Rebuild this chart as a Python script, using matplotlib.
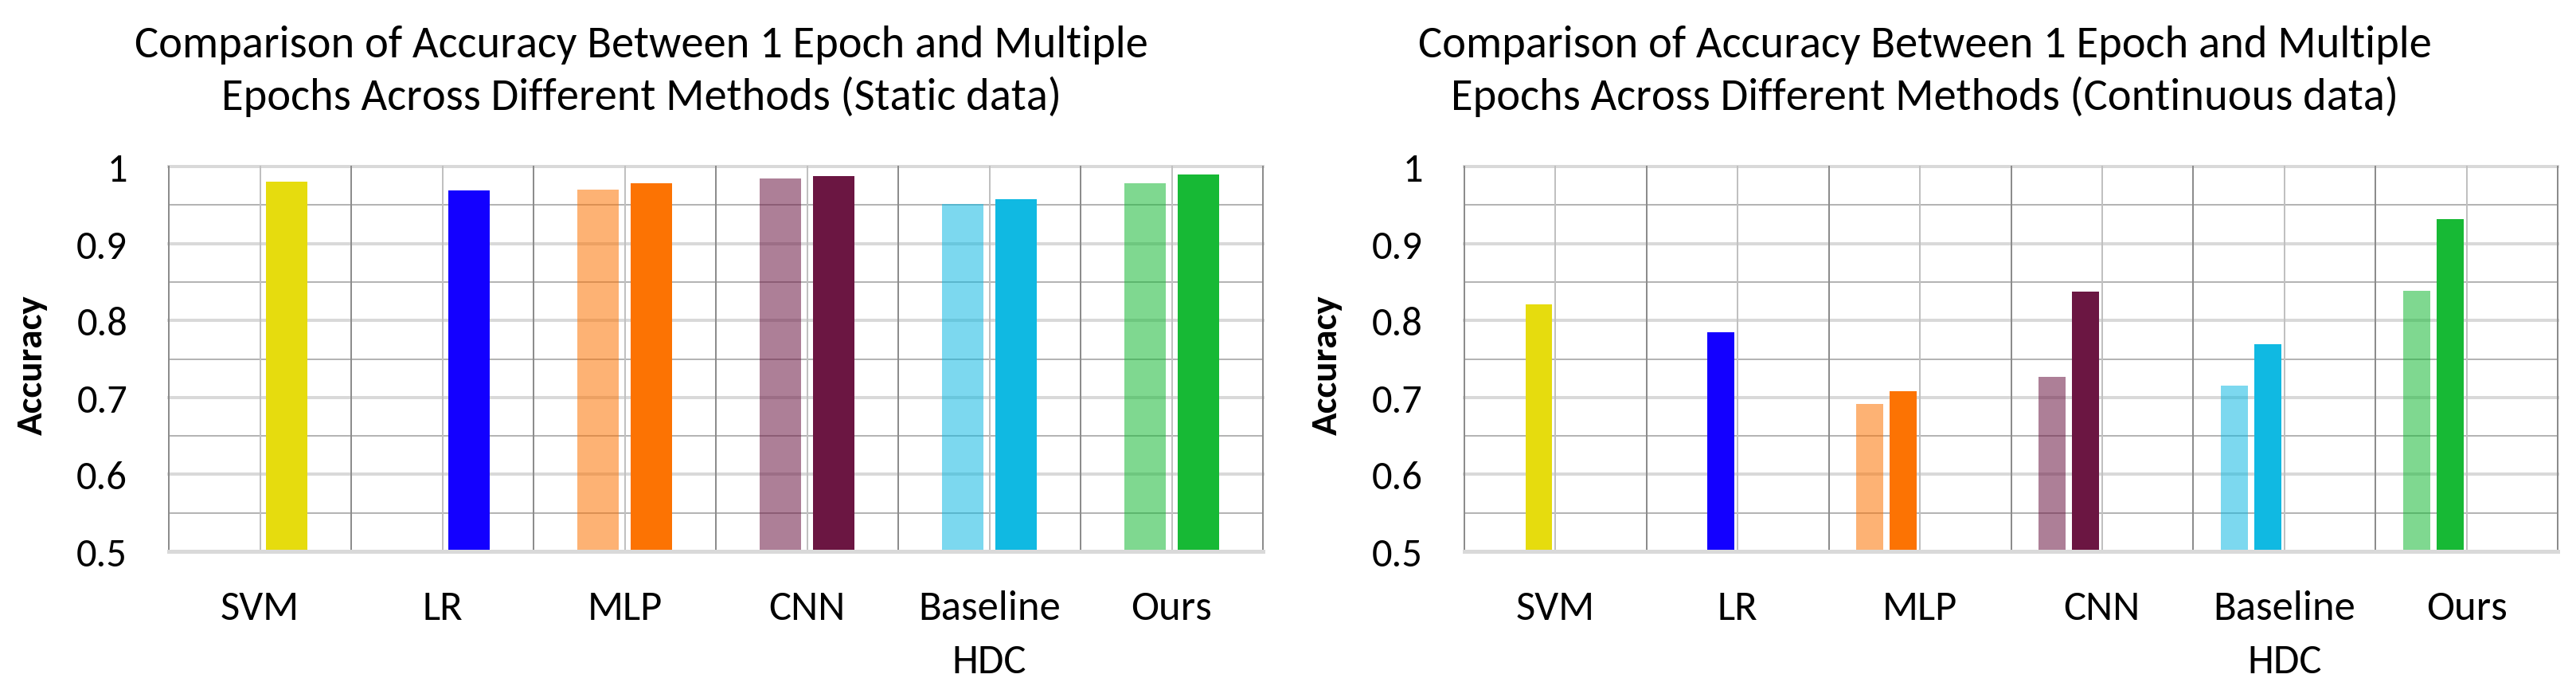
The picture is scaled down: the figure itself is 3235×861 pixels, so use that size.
import numpy as np
import matplotlib
matplotlib.use("Agg")
import matplotlib.pyplot as plt
from matplotlib import font_manager
from matplotlib.transforms import blended_transform_factory

# ---------------- data ----------------
methods = ["SVM", "LR", "MLP", "CNN", "Baseline\nHDC", "Ours"]
static_1epoch = [np.nan, np.nan, 0.970, 0.984, 0.951, 0.978]
static_multi = [0.980, 0.969, 0.978, 0.988, 0.958, 0.990]
cont_1epoch = [np.nan, np.nan, 0.692, 0.727, 0.715, 0.838]
cont_multi = [0.821, 0.785, 0.708, 0.837, 0.769, 0.932]
yticks = [0.5, 0.6, 0.7, 0.8, 0.9, 1.0]
ytick_labels = ["0.5", "0.6", "0.7", "0.8", "0.9", "1"]
titles = [
    ["Comparison of Accuracy Between 1 Epoch and Multiple",
     "Epochs Across Different Methods (Static data)"],
    ["Comparison of Accuracy Between 1 Epoch and Multiple",
     "Epochs Across Different Methods (Continuous data)"],
]
ylabel = "Accuracy"
colors = ["#E6DC0E", "#1300FF", "#FC7303", "#6B1642", "#10B9E2", "#17B935"]

# ---------------- font ----------------
def pick(names):
    for n in names:
        try:
            font_manager.findfont(n, fallback_to_default=False)
            return n
        except Exception:
            pass
    return "DejaVu Sans"

FONT = pick(["Carlito", "Lato", "Open Sans"])
plt.rcParams["font.family"] = [FONT, "DejaVu Sans"]

W, H = 3235, 862
DPI = 100
fig = plt.figure(figsize=(W / DPI, H / DPI), dpi=DPI)
renderer = fig.canvas.get_renderer()


def px(v):  # pixels -> points
    return v * 72 / DPI


def fit_size(text, target_px, weight="normal"):
    t = fig.text(0, 0, text, fontsize=100, fontweight=weight)
    w = t.get_window_extent(renderer).width
    t.remove()
    return 100 * target_px / w


TITLE_FS = fit_size(titles[0][0], 1273)
YTICK_FS = fit_size("0.9", 64)
XLAB_FS = fit_size("Baseline", 179)
YLAB_FS = fit_size(ylabel, 176, "bold")


def make_axes(x0, x1, y0, y1):
    return fig.add_axes([x0 / W, (H - y1) / H, (x1 - x0) / W, (y1 - y0) / H])


panels = [
    dict(ax=make_axes(212, 1586, 210, 693), one=static_1epoch, multi=static_multi,
         width=0.227, spacing=0.293, slots=[-0.5, 0.5], title_x=805, ylab_x=40),
    dict(ax=make_axes(1839, 3212, 210, 693), one=cont_1epoch, multi=cont_multi,
         width=0.148, spacing=0.183, slots=[-1.5, -0.5], title_x=2417, ylab_x=1666),
]

x = np.arange(len(methods))
for i, p in enumerate(panels):
    ax = p["ax"]
    ax.set_xlim(-0.5, len(methods) - 0.5)
    ax.set_ylim(0.5, 1.0)
    for s in ax.spines.values():
        s.set_visible(False)

    # gridlines
    for v in np.arange(0.55, 1.0, 0.1):
        ax.axhline(v, color="#b4b4b4", lw=px(2), zorder=1, clip_on=False)
    for v in yticks[1:]:
        ax.axhline(v, color="#d9d9d9", lw=px(4), zorder=1, clip_on=False)
    for c in x:
        ax.axvline(c, color="#c0c0c0", lw=px(2), zorder=1.2, clip_on=False)
    for b in np.arange(-0.5, len(methods), 1.0):
        ax.axvline(b, color="#8c8c8c", lw=px(2), zorder=1.3, clip_on=False)
    ax.axhline(0.5, color="#d9d9d9", lw=px(5), zorder=4, clip_on=False)

    w, sp = p["width"], p["spacing"]
    ax.bar(x + p["slots"][0] * sp, np.array(p["one"]) - 0.5, bottom=0.5, width=w,
           color=colors, alpha=0.55, zorder=3, linewidth=0)
    ax.bar(x + p["slots"][1] * sp, np.array(p["multi"]) - 0.5, bottom=0.5, width=w,
           color=colors, zorder=3, linewidth=0)

    ax.set_yticks(yticks)
    ax.set_yticklabels(ytick_labels)
    ax.tick_params(axis="y", length=0, pad=px(52), labelsize=YTICK_FS)
    ax.set_xticks(x)
    ax.set_xticklabels([""] * len(methods))
    ax.tick_params(axis="x", length=0)

    # category labels (one text per line, baselines at fixed pixel rows)
    trans = blended_transform_factory(ax.transData, fig.transFigure)
    for xi, name in zip(x, methods):
        for k, line in enumerate(name.split("\n")):
            ax.text(xi, 1 - (778 + 67 * k) / H, line, transform=trans,
                    ha="center", va="baseline", fontsize=XLAB_FS)

    for k, line in enumerate(titles[i]):
        fig.text(p["title_x"] / W, 1 - (72 + 66 * k) / H, line, ha="center",
                 va="baseline", fontsize=TITLE_FS)
    fig.text(p["ylab_x"] / W, 1 - 458 / H, ylabel, rotation=90, ha="center",
             va="center", fontsize=YLAB_FS, fontweight="bold")

fig.savefig("out.png", dpi=DPI, facecolor="white")
